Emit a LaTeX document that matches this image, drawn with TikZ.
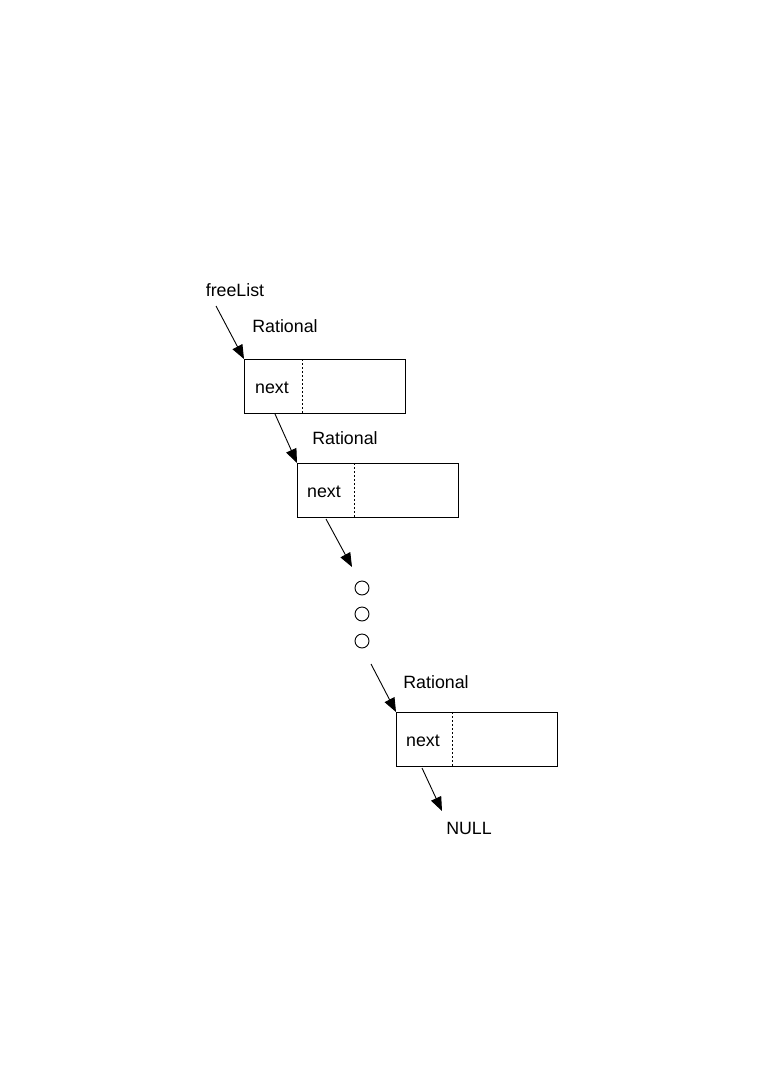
\documentclass[tikz,border=0pt]{standalone}
\usepackage{fontspec}
\setmainfont{Liberation Sans}
\usetikzlibrary{arrows.meta}
\begin{document}
\begin{tikzpicture}[x=1pt,y=-1pt,
  rec/.style={draw,line width=0.9pt,minimum width=161pt,minimum height=54pt,inner sep=0pt,anchor=north west},
  lbl/.style={font=\fontsize{17.8}{20}\selectfont,inner sep=0pt},
  ptr/.style={line width=0.9pt,-{Triangle[length=14pt,width=11pt]}},
  div/.style={line width=0.9pt,dash pattern=on 2pt off 2pt},
  dotc/.style={draw,line width=0.9pt,circle,minimum size=14pt,inner sep=0pt}]
\useasboundingbox (0,0) rectangle (761,1076);
% boxes
\node[rec] (b1) at (244,359) {};
\node[rec] (b2) at (297,463) {};
\node[rec] (b3) at (396,712) {};
\draw[div] (302,359) -- (302,413);
\draw[div] (354,463) -- (354,518);
\draw[div] (452,712) -- (452,767);
% texts
\node[lbl] (fl) at (235,290) {freeList};
\node[lbl] (r1) at (285,326) {Rational};
\node[lbl] (r2) at (345,438) {Rational};
\node[lbl] (r3) at (436,682) {Rational};
\node[lbl] (n1) at (272,388) {next};
\node[lbl] (n2) at (324,492) {next};
\node[lbl] (n3) at (423,741) {next};
\node[lbl] (nul) at (469,828) {NULL};
% circles
\node[dotc] (c1) at (362,588) {};
\node[dotc] (c2) at (362,614) {};
\node[dotc] (c3) at (362,641) {};
% connectors
\coordinate (s0) at (216,306);
\coordinate (s1) at (275,414);
\coordinate (s2) at (326,519);
\coordinate (e2) at (352,567);
\coordinate (s3) at (371,664);
\coordinate (s4) at (422,768);
\coordinate (e4) at (442,811);
\draw[ptr] (s0) -- (b1.north west);
\draw[ptr] (s1) -- (b2.north west);
\draw[ptr] (s2) -- (e2);
\draw[ptr] (s3) -- (b3.north west);
\draw[ptr] (s4) -- (e4);
\end{tikzpicture}
\end{document}
